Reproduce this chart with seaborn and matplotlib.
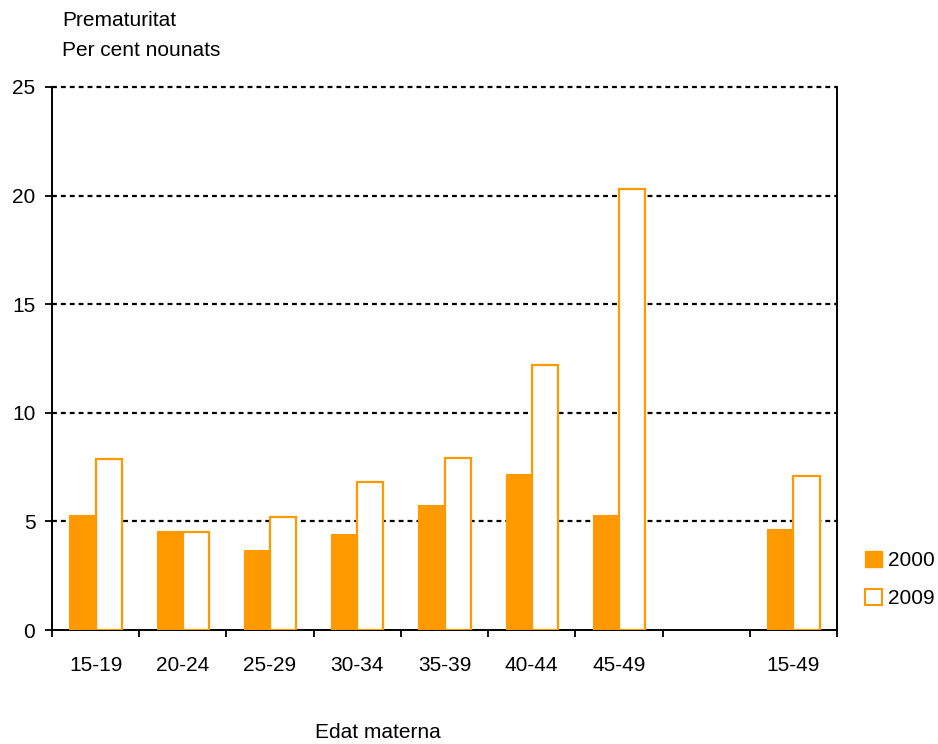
import numpy as np
import pandas as pd
import seaborn as sns
import matplotlib.pyplot as plt

# data
categories = ['15-19', '20-24', '25-29', '30-34', '35-39', '40-44', '45-49', ' ', '15-49']
vals_2000 = [5.3, 4.55, 3.7, 4.4, 5.75, 7.2, 5.3, np.nan, 4.65]
vals_2009 = [7.85, 4.5, 5.2, 6.8, 7.9, 12.2, 20.3, np.nan, 7.1]
years = ['2000', '2009']
y_ticks = [0, 5, 10, 15, 20, 25]

orange = '#ff9900'

df = pd.DataFrame({
    'edat': categories * 2,
    'any': [years[0]] * len(categories) + [years[1]] * len(categories),
    'valor': vals_2000 + vals_2009,
})

sns.set_style('white')
plt.rcParams['font.family'] = ['Liberation Sans', 'DejaVu Sans']
plt.rcParams['font.size'] = 15
plt.rcParams['text.color'] = 'black'
plt.rcParams['xtick.color'] = 'black'
plt.rcParams['ytick.color'] = 'black'
plt.rcParams['xtick.labelcolor'] = 'black'
plt.rcParams['ytick.labelcolor'] = 'black'

fig = plt.figure(figsize=(9.38, 7.44), dpi=100)
ax = fig.add_axes([52 / 938, 1 - 630 / 744, (837 - 52) / 938, (630 - 87) / 744])

sns.barplot(data=df, x='edat', y='valor', hue='any', order=categories,
            hue_order=years, palette=[orange, orange], saturation=1,
            width=0.6, gap=0, errorbar=None, ax=ax, legend=False, zorder=3)

# 2009 bars: white fill with orange outline
for bar in ax.containers[1]:
    bar.set_facecolor('white')
    bar.set_edgecolor(orange)
    bar.set_linewidth(1.6)
for bar in ax.containers[0]:
    bar.set_edgecolor(orange)
    bar.set_linewidth(0.8)

ax.set_xlim(-0.5, len(categories) - 0.5)
ax.set_ylim(0, 25)
ax.set_yticks(y_ticks)
ax.set_xlabel('')
ax.set_ylabel('')

# labels centred in the slots, tick marks on the boundaries
ax.set_xticks(range(len(categories)))
ax.set_xticklabels(categories)
ax.set_xticks(np.arange(-0.5, len(categories)), minor=True)
ax.tick_params(axis='x', which='major', length=0, pad=19, labelsize=15)
ax.tick_params(axis='x', which='minor', length=5, width=1.3, direction='out',
               bottom=True)
ax.tick_params(axis='y', length=5, width=1.3, direction='out',
               left=True, pad=7, labelsize=15)

for y in y_ticks[1:]:
    ax.axhline(y, color='black', lw=1.6, ls=(0, (2.2, 1.8)), zorder=1, clip_on=False)

for side in ['left', 'bottom', 'right']:
    ax.spines[side].set_visible(True)
    ax.spines[side].set_color('black')
    ax.spines[side].set_linewidth(1.4)
ax.spines['top'].set_visible(False)

# legend
handles = [plt.Rectangle((0, 0), 1, 1, facecolor=orange, edgecolor=orange),
           plt.Rectangle((0, 0), 1, 1, facecolor='white', edgecolor=orange, lw=1.5)]
fig.legend(handles, years, loc='upper left', bbox_to_anchor=(865 / 938, 1 - 551 / 744),
           frameon=False, handlelength=0.8, handleheight=0.8, handletextpad=0.3,
           labelspacing=0.9, borderpad=0, borderaxespad=0, fontsize=15)

fig.text(62 / 938, 1 - 20 / 744, 'Prematuritat', fontsize=15, va='center', ha='left')
fig.text(62 / 938, 1 - 50 / 744, 'Per cent nounats', fontsize=15, va='center', ha='left')
fig.text(378 / 938, 1 - 733 / 744, 'Edat materna', fontsize=15, va='center', ha='center')

fig.savefig('out.png', dpi=100)
